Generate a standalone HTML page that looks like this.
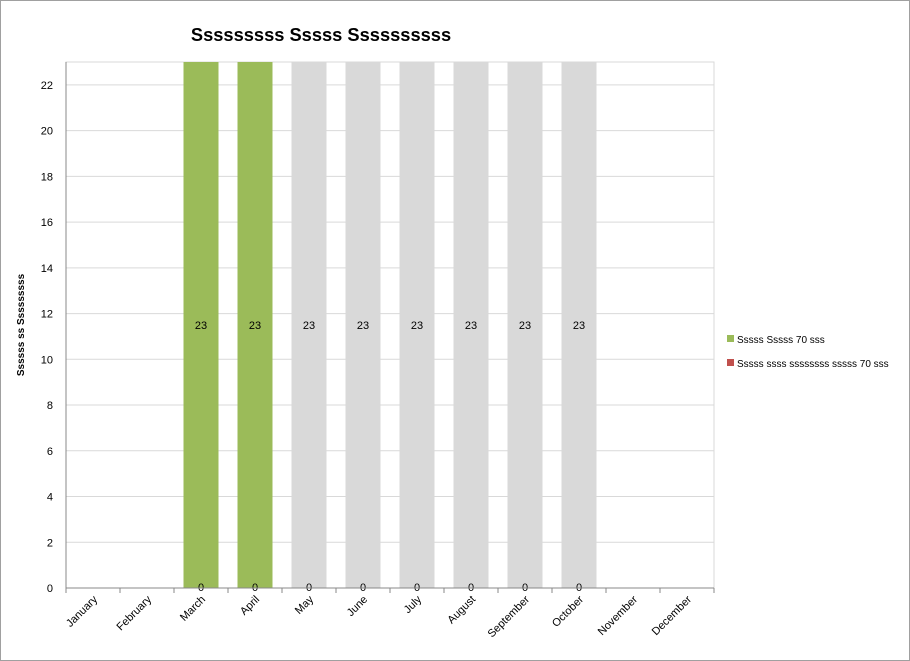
<!DOCTYPE html>
<html><head><meta charset="utf-8"><style>
body{margin:0;width:910px;height:661px;overflow:hidden;background:#fff;font-family:"Liberation Sans",sans-serif}
#frame{position:absolute;left:0;top:0;width:908px;height:659px;border:1px solid #a0a0a0}
</style></head><body>
<div id="frame"></div>
<svg id="c" width="910" height="661" style="position:absolute;left:0;top:0">
<text x="321" y="41" text-anchor="middle" font-size="18.3" font-weight="bold">Sssssssss Sssss Ssssssssss</text>
<text transform="translate(24,325) rotate(-90)" text-anchor="middle" font-size="10" font-weight="bold">Ssssss ss Sssssssss</text>
<g id="legend">
<rect x="727" y="335" width="7" height="7" fill="#9bbb59"/>
<text x="737" y="343" font-size="10">Sssss Sssss 70 sss</text>
<rect x="727" y="359" width="7" height="7" fill="#c0504d"/>
<text x="737" y="367" font-size="10">Sssss ssss ssssssss sssss 70 sss</text>
</g>
</svg>
<script>
const categories=["January","February","March","April","May","June","July","August","September","October","November","December"];
const values=[null,null,23,23,23,23,23,23,23,23,null,null];
const zeroLabels=[null,null,0,0,0,0,0,0,0,0,null,null];
const barColors=[null,null,"#9bbb59","#9bbb59","#d9d9d9","#d9d9d9","#d9d9d9","#d9d9d9","#d9d9d9","#d9d9d9",null,null];
const yTicks=[0,2,4,6,8,10,12,14,16,18,20,22];
const yMax=23;
const svg=document.getElementById('c');const NS='http://www.w3.org/2000/svg';
const L=66,R=714,T=62,B=588;
const y=v=>B-(v/yMax)*(B-T);
const band=(R-L)/categories.length;
const x=i=>L+band*(i+0.5);
function mk(tag,a,txt){const e=document.createElementNS(NS,tag);for(const k in a)e.setAttribute(k,a[k]);if(txt!=null)e.textContent=txt;svg.appendChild(e);return e;}
yTicks.forEach(t=>{
 if(t>0){const g=mk('line',{x1:L,x2:R,y1:y(t),y2:y(t),stroke:'#d9d9d9'});
 
 }
 const tl=mk('text',{x:L-13,y:y(t)+4,'text-anchor':'end','font-size':11},t);
 
 
});
const fr=mk('rect',{x:L,y:T,width:R-L,height:B-T,fill:'none',stroke:'#d9d9d9'});


categories.forEach((c,i)=>{
 if(values[i]!=null){
  const w=35;
  const b=mk('rect',{x:x(i)-w/2,y:y(values[i]),width:w,height:B-y(values[i]),fill:barColors[i]});
  
  
  const v=mk('text',{x:x(i),y:y(values[i]/2)+4,'text-anchor':'middle','font-size':11},values[i]);
  
  
  const z=mk('text',{x:x(i),y:B+3,'text-anchor':'middle','font-size':11},zeroLabels[i]);
  
  
 }
});
const ax=mk('line',{x1:L,x2:R,y1:B,y2:B,stroke:'#888'});


const ay=mk('line',{x1:L,x2:L,y1:T,y2:B,stroke:'#888'});


for(let i=0;i<=categories.length;i++){
 const tk=mk('line',{x1:L+band*i,x2:L+band*i,y1:B,y2:B+5,stroke:'#888'});
 
 
}
categories.forEach((c,i)=>{
 const t=mk('text',{transform:`translate(${x(i)+5},${B+12}) rotate(-45)`,'text-anchor':'end','font-size':11},c);
 
 
});
</script>
</body></html>
